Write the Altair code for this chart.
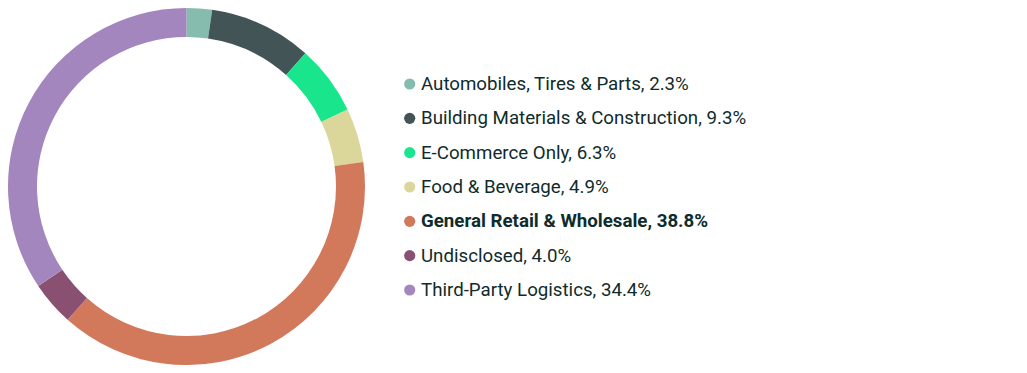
import altair as alt
import pandas as pd

categories = [
    "Automobiles, Tires & Parts",
    "Building Materials & Construction",
    "E-Commerce Only",
    "Food & Beverage",
    "General Retail & Wholesale",
    "Undisclosed",
    "Third-Party Logistics",
]
shares = [2.3, 9.3, 6.3, 4.9, 38.8, 4.0, 34.4]
colors = ["#85BCAD", "#435456", "#19E68C", "#DBD79B", "#D2795B", "#8A5072", "#A386BE"]
highlight = "General Retail & Wholesale"

df = pd.DataFrame({
    "category": categories,
    "share": shares,
    "order": list(range(len(categories))),
    "label": [f"{c}, {v:.1f}%" for c, v in zip(categories, shares)],
})

color_scale = alt.Scale(domain=categories, range=colors)
y_scale = alt.Scale(type="point", domain=categories, range=[76, 282], padding=0)
TEXT = "#0F2C2C"
FONT = "Roboto"
FS = 18.7

base = alt.Chart(df)

donut = base.mark_arc(outerRadius=178.5, innerRadius=149.5).encode(
    theta=alt.Theta("share:Q", stack=True),
    order=alt.Order("order:Q", sort="ascending"),
    color=alt.Color("category:N", scale=color_scale, legend=None),
    x=alt.value(178.5),
    y=alt.value(178.5),
)

dots = base.mark_point(filled=True, shape="circle", size=125, opacity=1).encode(
    x=alt.value(401.7),
    y=alt.Y("category:N", scale=y_scale, axis=None),
    color=alt.Color("category:N", scale=color_scale, legend=None),
)

txt_normal = base.transform_filter(alt.datum.category != highlight).mark_text(
    align="left", baseline="middle", font=FONT, fontSize=FS, color=TEXT, fontWeight="normal"
).encode(
    x=alt.value(413),
    y=alt.Y("category:N", scale=y_scale, axis=None),
    text="label:N",
)

txt_bold = base.transform_filter(alt.datum.category == highlight).mark_text(
    align="left", baseline="middle", font=FONT, fontSize=FS, color=TEXT, fontWeight="bold"
).encode(
    x=alt.value(413),
    y=alt.Y("category:N", scale=y_scale, axis=None),
    text="label:N",
)

chart = alt.layer(donut, dots, txt_normal, txt_bold).properties(
    width=1011, height=357, padding=0, autosize=alt.AutoSizeParams(type="none")
).configure_view(stroke=None)

chart.save("out.html", embed_options={"renderer": "svg", "actions": False})
